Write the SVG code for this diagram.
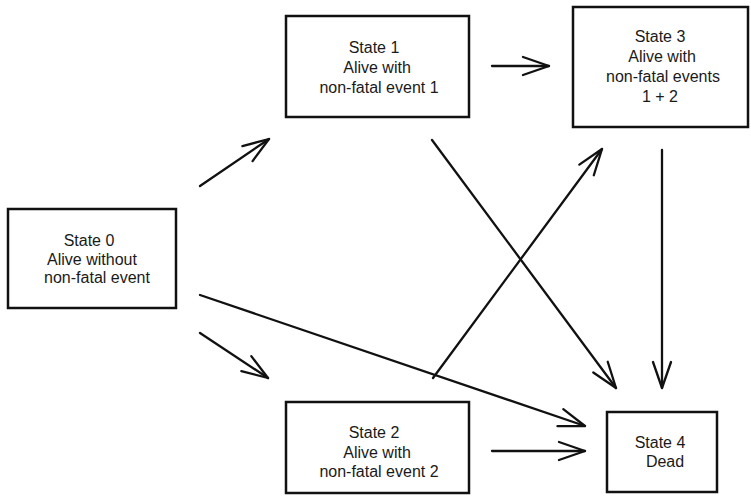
<svg xmlns="http://www.w3.org/2000/svg" width="751" height="500" viewBox="0 0 751 500">
  <style>
    .box { fill: #ffffff; stroke: #111111; stroke-width: 2.5; }
    .lbl { font-family: "Liberation Sans", Arial, sans-serif; font-size: 16px; fill: #1a1a1a; text-anchor: middle; }
    .edge { stroke: #111111; stroke-width: 2.3; fill: none; stroke-linecap: round; }
  </style>
  <defs>
    <!-- open V arrowhead -->
    <marker id="arrow" markerUnits="userSpaceOnUse" viewBox="-30 -14 34 28" markerWidth="34" markerHeight="28" refX="0" refY="0" orient="auto">
      <path d="M-26,-9 L0,0 L-26,9" fill="none" stroke="#111111" stroke-width="2.3" stroke-linecap="round" stroke-linejoin="round"/>
    </marker>
  </defs>
  <rect width="751" height="500" fill="#ffffff"/>

  <g id="connectors">
    <line class="edge" x1="200" y1="186" x2="269" y2="139" marker-end="url(#arrow)"/>
    <line class="edge" x1="200" y1="333" x2="268" y2="378" marker-end="url(#arrow)"/>
    <line class="edge" x1="492" y1="66" x2="549" y2="66" marker-end="url(#arrow)"/>
    <line class="edge" x1="432" y1="140" x2="616" y2="388" marker-end="url(#arrow)"/>
    <line class="edge" x1="433" y1="378" x2="602" y2="149" marker-end="url(#arrow)"/>
    <line class="edge" x1="200" y1="295" x2="585" y2="426" marker-end="url(#arrow)"/>
    <line class="edge" x1="662" y1="150" x2="662" y2="388" marker-end="url(#arrow)"/>
    <line class="edge" x1="492" y1="451" x2="585" y2="451" marker-end="url(#arrow)"/>
  </g>

  <g id="state0">
    <rect class="box" x="8" y="209" width="168" height="99"/>
    <text class="lbl" x="89" y="246">State 0</text>
    <text class="lbl" x="92" y="265">Alive without</text>
    <text class="lbl" x="97" y="283">non-fatal event</text>
  </g>

  <g id="state1">
    <rect class="box" x="286" y="16" width="183" height="101"/>
    <text class="lbl" x="374" y="53">State 1</text>
    <text class="lbl" x="377" y="73">Alive with</text>
    <text class="lbl" x="379" y="93">non-fatal event 1</text>
  </g>

  <g id="state3">
    <rect class="box" x="573" y="7" width="175" height="120"/>
    <text class="lbl" x="660" y="42">State 3</text>
    <text class="lbl" x="662" y="62">Alive with</text>
    <text class="lbl" x="663" y="82">non-fatal events</text>
    <text class="lbl" x="660" y="102">1 + 2</text>
  </g>

  <g id="state2">
    <rect class="box" x="286" y="402" width="183" height="91"/>
    <text class="lbl" x="374" y="438">State 2</text>
    <text class="lbl" x="377" y="458">Alive with</text>
    <text class="lbl" x="379" y="477">non-fatal event 2</text>
  </g>

  <g id="state4">
    <rect class="box" x="607" y="412" width="110" height="80"/>
    <text class="lbl" x="660" y="448">State 4</text>
    <text class="lbl" x="665" y="467">Dead</text>
  </g>
</svg>
